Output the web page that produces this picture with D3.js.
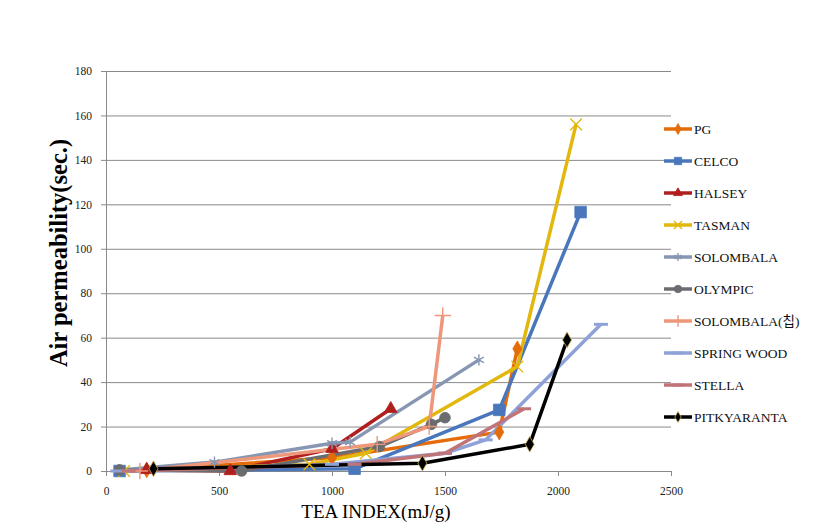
<html>
<head>
<script src="https://d3js.org/d3.v7.min.js"></script>
<style>
  body { margin: 0; background: white; }
  svg text { font-family: "Liberation Serif", "DejaVu Serif", "Noto Sans CJK KR", serif; }
  .tick text { font-size: 11.5px; fill: #222; }
  .legend text { font-size: 13.5px; fill: #111; }
</style>
</head>
<body>
<svg id="chart" width="818" height="532"></svg>
<script>
// series values [TEA index, air permeability]
const pg          = [[180, 0.5], [1000, 6], [1740, 17.5], [1820, 55]];
const celco       = [[60, 0], [1100, 1], [1740, 27.5], [2100, 116.5]];
const halsey      = [[180, 0.5], [550, 0], [1000, 10], [1260, 28]];
const tasman      = [[80, 0], [900, 3], [1150, 8], [1820, 47], [2080, 156]];
const solombala   = [[60, 0.5], [480, 4], [1000, 12.5], [1080, 13], [1650, 50]];
const olympic     = [[60, 0.5], [600, 0], [1210, 11], [1440, 21], [1500, 24]];
const solombalaC  = [[150, 0], [1200, 12], [1430, 20], [1490, 70]];
const springWood  = [[50, 0], [1000, 3], [1500, 8], [1680, 14], [2190, 66]];
const stella      = [[100, 0], [1100, 3], [1500, 8], [1850, 28]];
const pitkyaranta = [[210, 1], [1400, 3.5], [1875, 12], [2040, 59]];

const seriesNames = ["PG", "CELCO", "HALSEY", "TASMAN", "SOLOMBALA", "OLYMPIC",
  "SOLOMBALA(칩)", "SPRING WOOD", "STELLA", "PITKYARANTA"];
const seriesData = [pg, celco, halsey, tasman, solombala, olympic,
  solombalaC, springWood, stella, pitkyaranta];
const seriesColors = ["#E46C0A", "#4A76BC", "#B01E1E", "#E2B70E", "#8796B2", "#6A6C70",
  "#EE977A", "#8FA2D8", "#C07478", "#000000"];
const markerTypes = ["diamond", "square", "triangle", "x", "asterisk", "circle",
  "plus", "dash", "dash", "diamond"];

const xTicks = [0, 500, 1000, 1500, 2000, 2500];
const yTicks = [0, 20, 40, 60, 80, 100, 120, 140, 160, 180];

const svg = d3.select("#chart");
const x = d3.scaleLinear().domain([0, 2500]).range([106, 671]);
const y = d3.scaleLinear().domain([0, 180]).range([471, 71]);

// gridlines
svg.append("g")
  .attr("transform", "translate(106,0)")
  .call(d3.axisLeft(y).tickValues(yTicks).tickSize(-565).tickFormat(""))
  .call(g => g.select(".domain").remove())
  .call(g => g.selectAll("line").attr("stroke", "#8a8a8a"));

// y axis
svg.append("g")
  .attr("transform", "translate(106,0)")
  .call(d3.axisLeft(y).tickValues(yTicks).tickSize(5).tickPadding(9).tickSizeOuter(0)
    .tickFormat(d3.format("d")))
  .call(g => g.select(".domain").attr("stroke", "#8a8a8a"))
  .call(g => g.selectAll("line").attr("stroke", "#8a8a8a"));

// x axis
svg.append("g")
  .attr("transform", "translate(0,471)")
  .call(d3.axisBottom(x).tickValues(xTicks).tickSize(5).tickPadding(11).tickSizeOuter(0)
    .tickFormat(d3.format("d")))
  .call(g => g.select(".domain").attr("stroke", "#8a8a8a"))
  .call(g => g.selectAll("line").attr("stroke", "#8a8a8a"));

// axis titles
svg.append("text")
  .attr("transform", "translate(67,253) rotate(-90)")
  .attr("text-anchor", "middle")
  .attr("font-size", "24.5px")
  .attr("font-weight", "bold")
  .text("Air permeability(sec.)");

svg.append("text")
  .attr("x", 376).attr("y", 518)
  .attr("text-anchor", "middle")
  .attr("font-size", "19px")
  .text("TEA INDEX(mJ/g)");

function marker(sel, type, color, size) {
  const s = size;
  if (type === "dash") {
    sel.append("line").attr("x1", -s * 0.7).attr("x2", s * 0.7)
      .attr("stroke", color).attr("stroke-width", 3);
    return;
  }
  const map = {
    diamond: d3.symbolDiamond, square: d3.symbolSquare, triangle: d3.symbolTriangle,
    circle: d3.symbolCircle, x: d3.symbolX, asterisk: d3.symbolAsterisk, plus: d3.symbolPlus
  };
  const stroked = type === "x" || type === "asterisk" || type === "plus";
  const area = s * s * (type === "square" ? 1.1 : type === "triangle" || type === "diamond" ? 0.7 : 0.9);
  const p = sel.append("path").attr("d", d3.symbol(map[type], area)());
  if (stroked) p.attr("fill", "none").attr("stroke", color).attr("stroke-width", 1.4);
  else p.attr("fill", color).attr("stroke", type === "diamond" && color === "#000000" ? "#c8b45a" : color)
    .attr("stroke-width", 0.8);
}

const line = d3.line().x(d => x(d[0])).y(d => y(d[1]));
const plot = svg.append("g");

seriesData.forEach((data, i) => {
  plot.append("path")
    .datum(data)
    .attr("fill", "none")
    .attr("stroke", seriesColors[i])
    .attr("stroke-width", 3.5)
    .attr("stroke-linejoin", "round")
    .attr("d", line);
});

seriesData.forEach((data, i) => {
  data.forEach(d => {
    const g = plot.append("g").attr("transform", `translate(${x(d[0])},${y(d[1])})`);
    marker(g, markerTypes[i], seriesColors[i], i === 1 ? 11 : 10);
  });
});

// legend
const legend = svg.append("g").attr("class", "legend");
seriesNames.forEach((name, i) => {
  const yy = 129 + i * 32;
  const g = legend.append("g").attr("transform", `translate(0,${yy})`);
  g.append("line").attr("x1", 664).attr("x2", 692)
    .attr("stroke", seriesColors[i]).attr("stroke-width", 3.5);
  const m = g.append("g").attr("transform", "translate(678,0)");
  marker(m, markerTypes[i], seriesColors[i], 7);
  g.append("text").attr("x", 694).attr("y", 4.5).text(name);
});
</script>
</body>
</html>
